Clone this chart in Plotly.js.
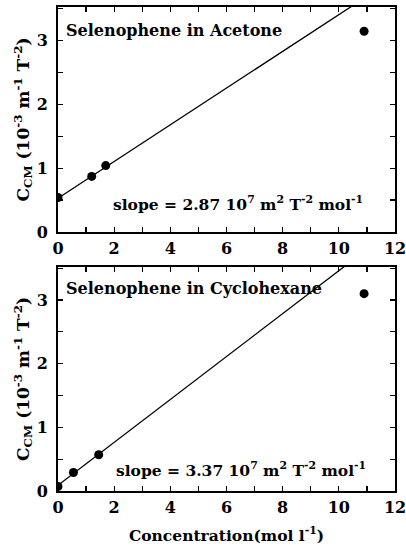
<!DOCTYPE html>
<html>
<head>
<meta charset="utf-8">
<script src="https://cdn.plot.ly/plotly-3.0.1.min.js"></script>
<style>html,body{margin:0;padding:0;background:#fff;}#chart{width:406px;height:550px;}</style>
</head>
<body>
<div id="chart"></div>
<script>
// Data
const acetoneConc = [0, 1.2, 1.7, 10.9];
const acetoneCcm = [0.54, 0.87, 1.04, 3.14];
const acetoneFit = {slope: 0.287, intercept: 0.53};

const cycloConc = [0, 0.55, 1.45, 10.9];
const cycloCcm = [0.07, 0.29, 0.57, 3.1];
const cycloFit = {slope: 0.337, intercept: 0.09};

const fitX = [0, 12];
const panelTitles = ["Selenophene in Acetone", "Selenophene in Cyclohexane"];
const slopeLabels = ["slope = 2.87 10<sup>7</sup> m<sup>2</sup> T<sup>-2</sup> mol<sup>-1</sup>",
                     "slope = 3.37 10<sup>7</sup> m<sup>2</sup> T<sup>-2</sup> mol<sup>-1</sup>"];
const xTickVals = [0, 2, 4, 6, 8, 10, 12];
const yTickVals = [0, 1, 2, 3];

const FONT = "DejaVu Serif";
const fitY = f => fitX.map(x => f.intercept + f.slope * x);

const traces = [
  {x: fitX, y: fitY(acetoneFit), xaxis: 'x', yaxis: 'y', mode: 'lines', line: {color: '#000', width: 1.3}},
  {x: acetoneConc, y: acetoneCcm, xaxis: 'x', yaxis: 'y', mode: 'markers', marker: {color: '#000', size: 9}},
  {x: fitX, y: fitY(cycloFit), xaxis: 'x2', yaxis: 'y2', mode: 'lines', line: {color: '#000', width: 1.3}},
  {x: cycloConc, y: cycloCcm, xaxis: 'x2', yaxis: 'y2', mode: 'markers', marker: {color: '#000', size: 9}}
];

const tickFont = {family: FONT, size: 16, color: '#000', weight: 'bold'};
const yTitle = {text: "C<sub>CM</sub> (10<sup>-3</sup> m<sup>-1</sup> T<sup>-2</sup>)", font: {family: FONT, size: 17, color: '#000', weight: 'bold'}, standoff: 3};

function xAxis(anchor, title) {
  const a = {
    anchor: anchor, range: [0, 12], tickvals: xTickVals, ticktext: xTickVals.map(String),
    ticks: 'inside', ticklen: 5, tickwidth: 1.2, tickcolor: '#000',
    minor: {ticks: 'inside', dtick: 1, tick0: 0, ticklen: 5, tickwidth: 1.2, tickcolor: '#000'},
    showline: true, linecolor: '#000', linewidth: 1.8, mirror: 'ticks',
    showgrid: false, zeroline: false, tickfont: tickFont, ticklabelstandoff: 1,
    ticklabeloverflow: 'allow'
  };
  if (title) a.title = {text: title, font: {family: FONT, size: 15.5, color: '#000', weight: 'bold'}, standoff: 14};
  return a;
}
function yAxis(anchor, domain) {
  return {
    anchor: anchor, domain: domain, range: [0, 3.52], tickvals: yTickVals, ticktext: yTickVals.map(String),
    ticks: 'inside', ticklen: 5, tickwidth: 1.2, tickcolor: '#000',
    minor: {ticks: 'inside', dtick: 0.5, tick0: 0, ticklen: 5, tickwidth: 1.2, tickcolor: '#000'},
    showline: true, linecolor: '#000', linewidth: 1.8, mirror: 'ticks',
    showgrid: false, zeroline: false, tickfont: tickFont, title: yTitle,
    ticklabelstandoff: 5, ticklabeloverflow: 'allow'
  };
}

const annFont = {family: FONT, size: 16, color: '#000', weight: 'bold'};
const slopeFont = {family: FONT, size: 15.5, color: '#000', weight: 'bold'};
const layout = {
  width: 406, height: 550,
  margin: {l: 58, r: 11, t: 7, b: 59},
  paper_bgcolor: '#fff', plot_bgcolor: '#fff',
  showlegend: false,
  xaxis: xAxis('y'),
  yaxis: yAxis('x', [0.535, 1]),
  xaxis2: xAxis('y2', "Concentration(mol l<sup>-1</sup>)"),
  yaxis2: yAxis('x2', [0, 0.463]),
  annotations: [
    {xref: 'x', yref: 'y', x: 0.2, y: 3.16, text: panelTitles[0], showarrow: false, xanchor: 'left', yanchor: 'middle', font: annFont},
    {xref: 'x', yref: 'y', x: 1.9, y: 0.45, text: slopeLabels[0], showarrow: false, xanchor: 'left', yanchor: 'middle', font: slopeFont},
    {xref: 'x2', yref: 'y2', x: 0.2, y: 3.18, text: panelTitles[1], showarrow: false, xanchor: 'left', yanchor: 'middle', font: annFont},
    {xref: 'x2', yref: 'y2', x: 2.0, y: 0.34, text: slopeLabels[1], showarrow: false, xanchor: 'left', yanchor: 'middle', font: slopeFont}
  ]
};

Plotly.newPlot('chart', traces, layout, {displayModeBar: false, staticPlot: true});
</script>
</body>
</html>
